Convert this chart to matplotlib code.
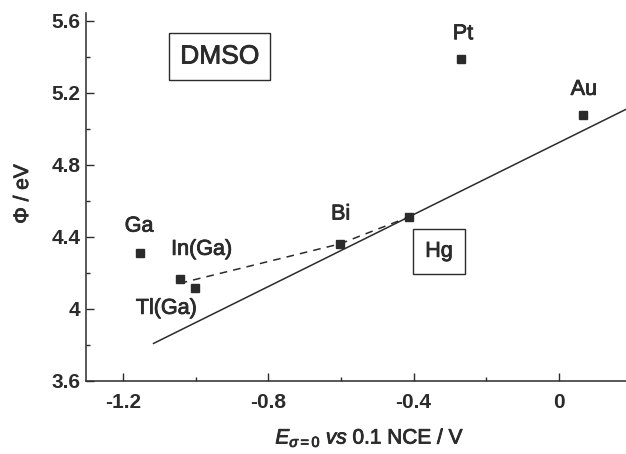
import matplotlib
matplotlib.use('Agg')
import matplotlib.pyplot as plt
import matplotlib.patheffects as pe
import numpy as np

plt.rcParams['font.family'] = ['Liberation Sans', 'DejaVu Sans']
plt.rcParams['mathtext.fontset'] = 'custom'
plt.rcParams['mathtext.rm'] = 'Liberation Sans'
plt.rcParams['mathtext.it'] = 'Liberation Sans:italic'

INK = '#2b2b2b'
# a slightly heavier stroke for the printed-looking text
HEAVY = [pe.withStroke(linewidth=0.6, foreground=INK)]

# metals: potential of zero charge vs work function
metals = ['Pt', 'Au', 'Bi', 'Hg', 'Ga', 'In(Ga)', 'Tl(Ga)']
e_pzc = [-0.27, 0.067, -0.603, -0.413, -1.154, -1.044, -1.003]
phi = [5.39, 5.075, 4.36, 4.51, 4.31, 4.163, 4.113]

# where each name is written
label_x = [-0.264, 0.069, -0.601, None, -1.156, -0.984, -1.081]
label_y = [5.528, 5.219, 4.526, None, 4.459, 4.330, 4.002]

# solid reference line, slope 1 through Hg
line_x = [-1.116, 0.19]
line_slope = 1.0
line_icpt = 4.923

# dashed trend for the sp metals
dash_x = [-1.044, -0.603, -0.413]
dash_y = [4.141, 4.36, 4.51]

fig = plt.figure(figsize=(6.26, 4.54), dpi=100)
ax = fig.add_axes([0.1374, 0.1615, 0.8626, 0.8106])

lx = np.array(line_x)
ax.plot(lx, line_slope * lx + line_icpt, color=INK, lw=1.1)
ax.plot(dash_x, dash_y, color=INK, lw=1.1, ls=(0, (5, 4)))
ax.plot(e_pzc, phi, ls='none', marker='s', ms=5.2, color=INK)

for name, tx, ty in zip(metals, label_x, label_y):
    if tx is None:
        continue
    ax.text(tx, ty, name, ha='center', va='center', fontsize=15.5, color=INK,
            path_effects=HEAVY)

ax.text(-0.934, 5.401, 'DMSO', ha='center', va='center', fontsize=19, color=INK,
        path_effects=HEAVY,
        bbox=dict(boxstyle='square,pad=0.42', fc='white', ec=INK, lw=1.0))
ax.text(-0.330, 4.319, 'Hg', ha='center', va='center', fontsize=15.5, color=INK,
        path_effects=HEAVY,
        bbox=dict(boxstyle='square,pad=0.55', fc='white', ec=INK, lw=1.0))

ax.set_xlim(-1.302, 0.185)
ax.set_ylim(3.6, 5.645)
ax.set_xticks([-1.2, -0.8, -0.4, 0])
ax.set_xticklabels(['-1.2', '-0.8', '-0.4', '0'])
ax.set_xticks([-1.0, -0.6, -0.2], minor=True)
ax.set_yticks([3.6, 4.0, 4.4, 4.8, 5.2, 5.6])
ax.set_yticklabels(['3.6', '4', '4.4', '4.8', '5.2', '5.6'])
ax.set_yticks([3.8, 4.2, 4.6, 5.0, 5.4], minor=True)

ax.spines['top'].set_visible(False)
ax.spines['right'].set_visible(False)
for s in ('left', 'bottom'):
    ax.spines[s].set_color(INK)
    ax.spines[s].set_linewidth(1.1)

ax.tick_params(which='major', direction='in', length=6, width=1, color=INK,
               labelsize=15, labelcolor=INK)
ax.tick_params(which='minor', direction='in', length=3, width=1, color=INK)
ax.tick_params(axis='x', which='major', pad=9)
ax.tick_params(axis='y', which='major', pad=4)
for lab in ax.get_xticklabels() + ax.get_yticklabels():
    lab.set_fontweight('bold')

ax.set_xlabel(r'$E_{\sigma=0}$ $vs$ 0.1 NCE / V', fontsize=15, color=INK,
              path_effects=HEAVY)
ax.xaxis.set_label_coords(0.526, -0.125)
ax.set_ylabel('Φ / eV', fontsize=15, color=INK, path_effects=HEAVY)
ax.yaxis.set_label_coords(-0.1, 0.507)

fig.savefig('out.png', dpi=100)
